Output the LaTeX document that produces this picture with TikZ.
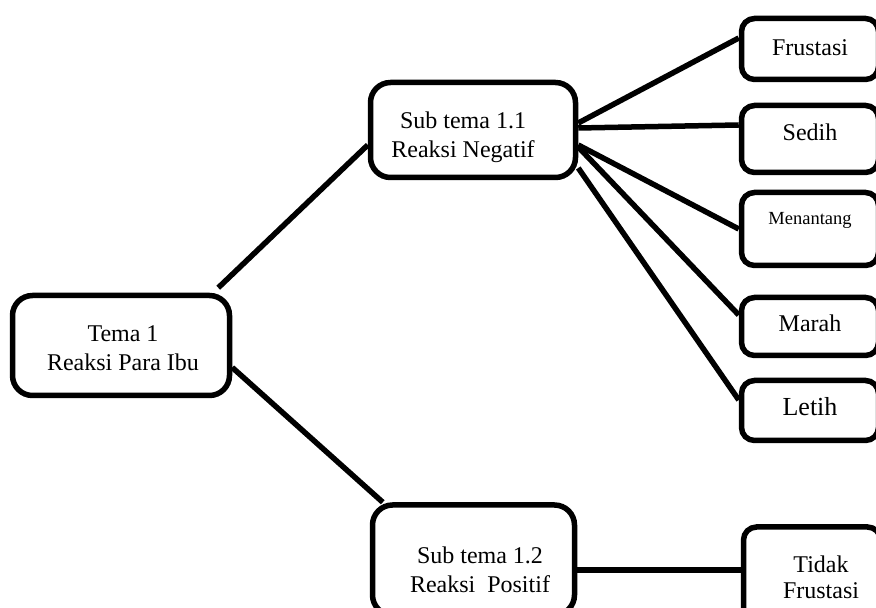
\documentclass[tikz,border=0pt]{standalone}
\usepackage{fontspec}
\setmainfont{Liberation Serif}
\begin{document}
\begin{tikzpicture}[x=1pt,y=1pt,
  bigbox/.style={draw,line width=5.5pt,rounded corners=20pt,inner sep=0pt},
  smallbox/.style={draw,line width=5.5pt,rounded corners=13pt,inner sep=0pt,minimum width=137pt},
  lbl/.style={align=center,inner sep=0pt,font=\fontsize{24}{29}\selectfont},
  conn/.style={line width=5.5pt}]
\useasboundingbox (0,0) rectangle (876,608);
% boxes
\node[bigbox,minimum width=217pt,minimum height=100pt] (tema) at (121,262.5) {};
\node[bigbox,minimum width=205pt,minimum height=95pt] (s11) at (473,478) {};
\node[bigbox,minimum width=202pt,minimum height=110pt] (s12) at (473.5,48) {};
\node[smallbox,minimum height=61pt] (fr) at (810,559) {};
\node[smallbox,minimum height=67pt] (se) at (810,469) {};
\node[smallbox,minimum height=73pt] (me) at (810,379) {};
\node[smallbox,minimum height=58pt] (ma) at (810,281.5) {};
\node[smallbox,minimum height=60pt] (le) at (810,197.5) {};
\node[smallbox,minimum height=100pt] (ti) at (812,31) {};
% texts
\node[lbl] (temat) at (123,260) {Tema 1\\Reaksi Para Ibu};
\node[lbl] (s11t) at (463,471) {Sub tema 1.1\\Reaksi Negatif};
\node[lbl] (s12t) at (480,38) {Sub tema 1.2\\Reaksi\ \ Positif};
\node[lbl] (frt) at (810,560) {Frustasi};
\node[lbl] (set) at (810,476) {Sedih};
\node[lbl,font=\fontsize{18.5}{22}\selectfont] (met) at (810,388) {Menantang};
\node[lbl] (mat) at (810,285) {Marah};
\node[lbl,font=\fontsize{26}{30}\selectfont] (let) at (810,201) {Letih};
\node[lbl,font=\fontsize{24}{26}\selectfont] (tit) at (821,31) {Tidak\\Frustasi};
% connectors
\draw[conn] ([xshift=-14pt,yshift=5pt]tema.north east) -- ([yshift=-15pt]s11.west);
\draw[conn] ([yshift=-22pt]tema.east) -- ([xshift=13pt]s12.north west);
\draw[conn] ([yshift=7pt]s11.east) -- ([yshift=11pt]fr.west);
\draw[conn] ([yshift=2pt]s11.east) -- ([yshift=14pt]se.west);
\draw[conn] ([yshift=-15pt]s11.east) -- (me.west);
\draw[conn] ([yshift=-17pt]s11.east) -- ([yshift=11.5pt]ma.west);
\draw[conn] ([yshift=-38pt]s11.east) -- ([yshift=10.5pt]le.west);
\draw[conn] ([yshift=-10pt]s12.east) -- ([yshift=7pt]ti.west);
\end{tikzpicture}
\end{document}
